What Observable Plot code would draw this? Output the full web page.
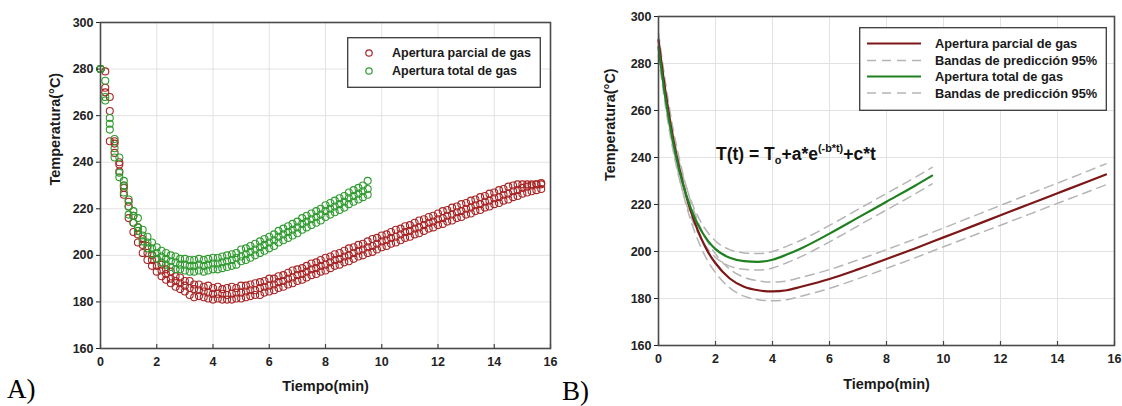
<!DOCTYPE html>
<html><head><meta charset="utf-8">
<script src="https://cdn.jsdelivr.net/npm/d3@7"></script>
<script src="https://cdn.jsdelivr.net/npm/@observablehq/plot@0.6"></script>
<style>
body{margin:0;background:#fff;}
#wrap{position:relative;width:1122px;height:406px;overflow:hidden;font-family:"Liberation Sans",Arial,sans-serif;}
.panel{position:absolute;top:0;}
.panel svg{overflow:visible;}
.lab{position:absolute;font-family:"Liberation Serif","Times New Roman",serif;font-size:27px;line-height:1;color:#000;}
.eq{position:absolute;font-weight:bold;font-size:17.5px;line-height:1;color:#111;white-space:nowrap;}
.eq sub{font-size:0.62em;vertical-align:-0.35em;}
.eq sup{font-size:0.62em;vertical-align:0.75em;}
</style></head>
<body><div id="wrap"></div>
<script>
// ---------- data ----------
const xTicks = [0,2,4,6,8,10,12,14,16];
const yTicks = [160,180,200,220,240,260,280,300];
const xLabel = "Tiempo(min)";
const yLabel = "Temperatura(°C)";

// Panel A: measured temperatures (three replicate runs), partial gas opening
const partialTime = [0,0.17,0.33,0.5,0.67,0.83,1,1.17,1.33,1.5,1.67,1.83,2,2.17,2.33,2.5,2.67,2.83,3,3.17,3.33,3.5,3.67,3.83,4,4.17,4.33,4.5,4.67,4.83,5,5.17,5.33,5.5,5.67,5.83,6,6.17,6.33,6.5,6.67,6.83,7,7.17,7.33,7.5,7.67,7.83,8,8.17,8.33,8.5,8.67,8.83,9,9.17,9.33,9.5,9.67,9.83,10,10.17,10.33,10.5,10.67,10.83,11,11.17,11.33,11.5,11.67,11.83,12,12.17,12.33,12.5,12.67,12.83,13,13.17,13.33,13.5,13.67,13.83,14,14.17,14.33,14.5,14.67,14.83,15,15.17,15.33,15.5,15.67];
const partialRun1 = [280,279,268,249,240,230,223,217,212,207,204,200,198.5,196,194,193,191,190.5,189,189,187.5,187.5,186.5,187,186,186.5,185.5,186,186.5,186,187,187,187.5,188,188.5,189,190,190,191,191.5,192.5,193.5,194,194.5,195.5,196.5,197,198,199,199.5,200.5,201,202,203,203.5,204.5,205,206,207,207.5,208.5,209,210,211,211.5,212.5,213,214,215,215.5,216.5,217,218,219,219.5,220.5,221,222,222.5,223.5,224,225,225.5,226.5,227,228,228.5,229.5,230,230.5,230.5,230.5,230.5,230.5,231];
const partialRun2 = [280,272,262,248,239,229,221,214,209,204.5,201,198,195.5,193.5,192,190,189,188,187,186,185.5,185,184.5,184,183.5,183.5,183.5,183,183.5,184,184,184.5,185,185,186,186.5,187,187.5,188.5,189,190,190.5,191.5,192,193,194,194.5,195.5,196,197,198,198.5,199.5,200,201,202,202.5,203.5,204,205,206,206.5,207.5,208,209,210,210.5,211.5,212,213,214,214.5,215.5,216,217,217.5,218.5,219,220,220.5,221.5,222,223,223.5,224.5,225,226,226.5,227.5,228,229,229.5,230,230.5,230.5];
const partialRun3 = [280,270,249,244,236,226,216,210,205.5,201,198,195.5,193,191,189.5,188,186.5,185.5,184.5,183,182,182.5,182,181.5,181,181.5,181,181,181,181.5,181.5,182,182.5,183,183,184,184.5,185,186,186.5,187.5,188,189,189.5,190.5,191.5,192,193,193.5,194.5,195.5,196,197,197.5,198.5,199.5,200,201,201.5,202.5,203.5,204,205,205.5,206.5,207.5,208,209,209.5,210.5,211.5,212,213,213.5,214.5,215,216,216.5,217.5,218,219,219.5,220.5,221,222,222.5,223.5,224,225,225.5,226.5,227,227.5,228,228.5];

// Panel A: measured temperatures (three replicate runs), total gas opening
const totalTime = [0,0.17,0.33,0.5,0.67,0.83,1,1.17,1.33,1.5,1.67,1.83,2,2.17,2.33,2.5,2.67,2.83,3,3.17,3.33,3.5,3.67,3.83,4,4.17,4.33,4.5,4.67,4.83,5,5.17,5.33,5.5,5.67,5.83,6,6.17,6.33,6.5,6.67,6.83,7,7.17,7.33,7.5,7.67,7.83,8,8.17,8.33,8.5,8.67,8.83,9,9.17,9.33,9.5];
const totalRun1 = [280,275,259,250,242,232,224,219,216,211,208,205.5,203.5,202,201,200,199.5,198.5,198.5,198,198,198.5,198,198.5,199,199,199.5,200,200.5,201,202.5,203,204,205,206,207,208,209,210.5,211.5,212.5,213.5,214.5,216,217,218,219,220,221.5,222.5,223.5,224.5,225.5,227,228,229,230,232];
const totalRun2 = [280,268,256.5,246,235.5,230,221,217,212,208.5,205.5,203,201,199.5,198.5,197.5,197,196,196,195.5,195.5,196,195.5,196,196.5,196.5,197,197.5,198,199,199.5,200.5,201.5,202.5,203.5,204.5,205.5,206.5,208,209,210,211,212,213.5,214.5,215.5,216.5,217.5,219,220,221,222,223,224.5,225.5,226.5,227.5,228.5];
const totalRun3 = [280,266.5,254,242,233.5,227,217.5,214,210.5,206,203,200.5,198.5,197,196,195,194,194,193.5,193,193,193.5,193,193.5,194,194,194.5,195,195.5,196,197.5,198,199,200,201,202,203,204,205.5,206.5,207.5,208.5,209.5,211,212,213,214,215,216.5,217.5,218.5,219.5,220.5,222,223,224,225,226];

// Panel B: fitted model and 95% prediction bands
const partialFitTime = [0,0.25,0.5,0.75,1,1.25,1.5,1.75,2,2.5,3,3.5,4,4.5,5,6,7,8,9,10,11,12,13,14,15,15.7];
const partialFit   = [290,267.5,249,234.5,222.5,213,205.5,199.5,195,188.5,185,183.5,183,183.5,185,188.3,192.4,196.8,201.3,206,210.7,215.4,220.1,224.8,229.5,232.8];
const partialUpper = [293,271.5,253,238.5,226.5,217,209.5,203.5,199,192.5,189,187.5,187,187.5,189,192.3,196.4,200.8,205.3,210,214.8,219.6,224.4,229.1,233.9,237.3];
const partialLower = [287,263.5,245,230.5,218.5,209,201.5,195.5,191,184.5,181,179.5,179,179.5,181,184.3,188.4,192.8,197.3,202,206.6,211.2,215.8,220.5,225.1,228.4];
const totalFitTime = [0,0.25,0.5,0.75,1,1.25,1.5,1.75,2,2.5,3,3.5,4,4.5,5,6,7,8,9,9.6];
const totalFit   = [287,264.7,247.2,233.5,223,214.9,208.8,204.3,201,197.3,195.9,195.6,196.5,198.7,201.3,207.6,214.4,221.2,228,232.3];
const totalUpper = [290.5,268.2,250.7,237,226.5,218.4,212.3,207.8,204.5,200.8,199.4,199.1,200,202.2,204.8,211.1,217.9,224.7,231.5,235.8];
const totalLower = [283.5,261.2,243.7,230,219.5,211.4,205.3,200.8,197.5,193.8,192.4,192.1,193,195.2,197.8,204.1,210.9,217.7,224.5,228.8];

const seriesNames = ["Apertura parcial de gas","Apertura total de gas"];
const bandName = "Bandas de predicción 95%";
const equationHTML = "T(t) = T<sub>o</sub>+a*e<sup>(-b*t)</sup>+c*t";

// ---------- build tables ----------
function runs(time, list){ const out=[]; list.forEach(r=>r.forEach((v,i)=>out.push({t:time[i],T:v}))); return out; }
const partialPts = runs(partialTime,[partialRun1,partialRun2,partialRun3]);
const totalPts = runs(totalTime,[totalRun1,totalRun2,totalRun3]);
const pairs = (time, vals) => vals.map((v,i)=>({t:time[i],T:v}));

const RED_PT="#a82424", GREEN_PT="#2f9b2f", RED_FIT="#7d1616", GREEN_FIT="#1f801f", BAND="#b5b5b5";
const FONT='"Liberation Sans", Arial, sans-serif';
const baseStyle = {fontFamily:FONT,fontSize:"12.5px",fontWeight:"bold",color:"#222",background:"transparent",overflow:"visible"};

function axes(xdy, ydx){
  return [
    Plot.axisX(xTicks,{tickSize:0,tickPadding:9,label:null}),
    Plot.ruleX(xTicks,{x:d=>d,y1:160,y2:161.7,stroke:"#444",strokeWidth:1.2}),
    Plot.axisY(yTicks,{tickSize:4,tickPadding:3,label:null}),
    Plot.text([xLabel],{frameAnchor:"bottom",dy:xdy,fontSize:14.5,fontWeight:"bold",fill:"#1a1a1a"}),
    Plot.text([yLabel],{frameAnchor:"left",dx:ydx,rotate:-90,fontSize:14.5,fontWeight:"bold",fill:"#1a1a1a"}),
    Plot.frame({stroke:"#4a4a4a",strokeWidth:1.6})
  ];
}
const grids = [
  Plot.gridX(xTicks,{stroke:"#e2e2e2",strokeOpacity:1,strokeWidth:1}),
  Plot.gridY(yTicks,{stroke:"#e2e2e2",strokeOpacity:1,strokeWidth:1})
];

const chartA = Plot.plot({
  width:560,height:406,marginLeft:100,marginRight:10,marginTop:22,marginBottom:58,
  style:baseStyle,
  x:{domain:[0,16]}, y:{domain:[160,300]},
  marks:[
    ...grids,
    Plot.dot(partialPts,{x:"t",y:"T",r:3.5,stroke:RED_PT,strokeWidth:1.1}),
    Plot.dot(totalPts,{x:"t",y:"T",r:3.5,stroke:GREEN_PT,strokeWidth:1.1}),
    ...axes(42,-45)
  ]
});

const dashed = {x:"t",y:"T",stroke:BAND,strokeWidth:1.5,strokeDasharray:"9,6",curve:"monotone-x"};
const chartB = Plot.plot({
  width:562,height:406,marginLeft:98,marginRight:8,marginTop:16,marginBottom:61,
  style:baseStyle,
  x:{domain:[0,16]}, y:{domain:[160,300]},
  marks:[
    ...grids,
    Plot.line(pairs(partialFitTime,partialUpper),dashed),
    Plot.line(pairs(partialFitTime,partialLower),dashed),
    Plot.line(pairs(totalFitTime,totalUpper),dashed),
    Plot.line(pairs(totalFitTime,totalLower),dashed),
    Plot.line(pairs(partialFitTime,partialFit),{x:"t",y:"T",stroke:RED_FIT,strokeWidth:2.2,curve:"monotone-x"}),
    Plot.line(pairs(totalFitTime,totalFit),{x:"t",y:"T",stroke:GREEN_FIT,strokeWidth:2.2,curve:"monotone-x"}),
    ...axes(43,-48)
  ]
});

const wrap = document.getElementById("wrap");
const pA = document.createElement("div"); pA.className="panel"; pA.style.left="0px"; pA.appendChild(chartA); wrap.appendChild(pA);
const pB = document.createElement("div"); pB.className="panel"; pB.style.left="560px"; pB.appendChild(chartB); wrap.appendChild(pB);

// ---------- legends ----------
const NS="http://www.w3.org/2000/svg";
function svgEl(tag, attrs, parent){ const e=document.createElementNS(NS,tag); for(const k in attrs) e.setAttribute(k,attrs[k]); if(parent) parent.appendChild(e); return e; }
function legend(left, top, w, h){
  const s=svgEl("svg",{width:w,height:h});
  s.style.left=left+"px"; s.style.top=top+"px"; s.style.position="absolute";
  svgEl("rect",{x:0.7,y:0.7,width:w-1.4,height:h-1.4,fill:"#fff",stroke:"#3a3a3a","stroke-width":1.3},s);
  wrap.appendChild(s); return s;
}
function ltext(s,x,y,str,size){ const t=svgEl("text",{x:x,y:y,"font-family":FONT,"font-weight":"bold","font-size":size,fill:"#1a1a1a","dominant-baseline":"central"},s); t.textContent=str; }

const legA = legend(347,37,194,51);
[[RED_PT,16,seriesNames[0]],[GREEN_PT,34,seriesNames[1]]].forEach(([c,y,n])=>{
  svgEl("circle",{cx:22,cy:y,r:3.2,fill:"none",stroke:c,"stroke-width":1.2},legA);
  ltext(legA,45,y,n,12.5);
});

const legB = legend(859,27,248,84);
[[RED_FIT,16.5,seriesNames[0],null],[BAND,33.5,bandName,"9,6"],[GREEN_FIT,49.5,seriesNames[1],null],[BAND,66,bandName,"9,6"]].forEach(([c,y,n,d])=>{
  const l=svgEl("line",{x1:8,x2:62,y1:y,y2:y,stroke:c,"stroke-width":d?1.5:2.2},legB);
  if(d) l.setAttribute("stroke-dasharray",d);
  ltext(legB,76,y,n,12.8);
});

// ---------- equation and panel tags ----------
const eq=document.createElement("div"); eq.className="eq"; eq.style.left="716px"; eq.style.top="143px";
eq.innerHTML=equationHTML; wrap.appendChild(eq);
const la=document.createElement("div"); la.className="lab"; la.style.left="7px"; la.style.top="376px"; la.textContent="A)"; wrap.appendChild(la);
const lb=document.createElement("div"); lb.className="lab"; lb.style.left="562px"; lb.style.top="378px"; lb.textContent="B)"; wrap.appendChild(lb);
</script></body></html>
